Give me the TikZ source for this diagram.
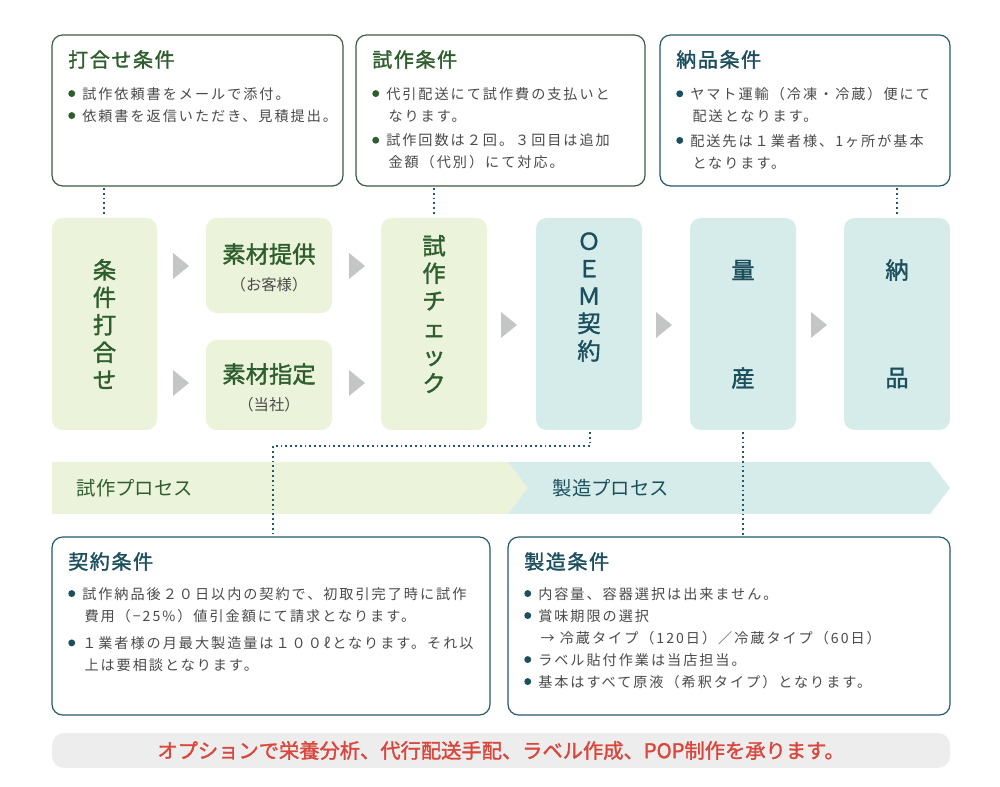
\documentclass[tikz,border=0pt]{standalone}
\usepackage{fontspec}
\setmainfont{Noto Sans CJK JP}
\newfontfamily\jpb{Noto Sans CJK JP}[FakeBold=1.5]
\newfontfamily\jpsp{Noto Sans CJK JP}[LetterSpace=14]
\newfontfamily\jpbsp{Noto Sans CJK JP}[FakeBold=1.5,LetterSpace=8]
\definecolor{gtx}{HTML}{2E5E2E}
\definecolor{ttx}{HTML}{1C4F5E}
\definecolor{gfill}{HTML}{EBF3DA}
\definecolor{tfill}{HTML}{D5ECEA}
\definecolor{gbord}{HTML}{3D5B42}
\definecolor{tbord}{HTML}{235A6A}
\definecolor{body}{HTML}{4A4A4A}
\definecolor{tri}{HTML}{C4C6C6}
\definecolor{redtx}{HTML}{D9463C}
\begin{document}
\begin{tikzpicture}[x=0.75pt,y=-0.75pt,
 info/.style={draw=#1,line width=0.9pt,rounded corners=8pt,fill=white},
 pbox/.style={fill=#1,rounded corners=8pt},
 dot/.style={draw=tbord,line width=1.4pt,dash pattern=on 1.4pt off 2.2pt},
 ttl/.style={anchor=north west,font=\jpbsp\fontsize{15}{18}\selectfont,text=#1,inner sep=0},
 bl/.style={anchor=north west,font=\jpsp\fontsize{10.6}{16.5}\selectfont,text=body,inner sep=0,align=left},
 ptx/.style={font=\jpb\fontsize{17.5}{20.6}\selectfont,text=#1,align=center,inner sep=0},
 tr/.style={fill=tri}]
\useasboundingbox (0,0) rectangle (1000,787);
\newcommand{\bul}[1]{\textcolor{#1}{\raisebox{0.15em}{\tikz\fill circle (2.6pt);}}\hspace{0.5em}}
% top info boxes
\draw[info=gbord] (52,35) rectangle (343,186);
\node[ttl=gtx] (t1) at (68,50) {打合せ条件};
\node[bl] (b1) at (68,87) {\bul{gtx}試作依頼書をメールで添付。\\\bul{gtx}依頼書を返信いただき、見積提出。};
\draw[info=gbord] (356,35) rectangle (645,186);
\node[ttl=gtx] (t2) at (372,50) {試作条件};
\node[bl] (b2) at (372,87) {\bul{gtx}代引配送にて試作費の支払いと\\\hspace{1.15em}なります。\\[2pt]\bul{gtx}試作回数は２回。３回目は追加\\\hspace{1.15em}金額（代別）にて対応。};
\draw[info=tbord] (660,35) rectangle (950,186);
\node[ttl=ttx] (t3) at (676,50) {納品条件};
\node[bl] (b3) at (676,87) {\bul{ttx}ヤマト運輸（冷凍・冷蔵）便にて\\\hspace{1.15em}配送となります。\\[2pt]\bul{ttx}配送先は１業者様、1ヶ所が基本\\\hspace{1.15em}となります。};
% dotted from top boxes
\draw[dot] (104,188) -- (104,216);
\draw[dot] (434,188) -- (434,216);
\draw[dot] (897,188) -- (897,216);
% process boxes
\fill[pbox=gfill] (52,218) rectangle (157,430);
\node[ptx=gtx] (p1) at (104.5,324) {条\\件\\打\\合\\せ};
\fill[pbox=gfill] (206,218) rectangle (332,313);
\node[ptx=gtx] (p2) at (269,254) {素材提供};
\node[font=\fontsize{11.5}{13}\selectfont,text=body] (p2s) at (269,285) {（お客様）};
\fill[pbox=gfill] (206,340) rectangle (332,430);
\node[ptx=gtx] (p3) at (269,374) {素材指定};
\node[font=\fontsize{11.5}{13}\selectfont,text=body] (p3s) at (269,405) {（当社）};
\fill[pbox=gfill] (381,218) rectangle (487,430);
\node[ptx=gtx] (p4) at (434,314) {試\\作\\チ\\ェ\\ッ\\ク};
\fill[pbox=tfill] (536,218) rectangle (642,430);
\node[ptx=ttx] (p5) at (589,297) {Ｏ\\Ｅ\\Ｍ\\契\\約};
\fill[pbox=tfill] (690,218) rectangle (796,430);
\node[ptx=ttx] (p6a) at (743,270) {量};
\node[ptx=ttx] (p6b) at (743,378) {産};
\fill[pbox=tfill] (844,218) rectangle (950,430);
\node[ptx=ttx] (p7a) at (897,270) {納};
\node[ptx=ttx] (p7b) at (897,378) {品};
% triangles
\foreach \x/\y in {173/266,173/383,349/266,349/383,501/325,656/325,811/325}
 \fill[tr] (\x,\y-13) -- (\x+16,\y) -- (\x,\y+13) -- cycle;
% process band
\fill[tfill] (508,462) -- (930,462) -- (950,488) -- (930,514) -- (508,514) -- cycle;
\fill[gfill] (52,462) -- (508,462) -- (528,488) -- (508,514) -- (52,514) -- cycle;
\node[anchor=west,font=\fontsize{14.5}{17}\selectfont,text=gtx] (band1) at (72,488) {試作プロセス};
\node[anchor=west,font=\fontsize{14.5}{17}\selectfont,text=ttx] (band2) at (548,488) {製造プロセス};
% dotted to bottom
\coordinate (c1) at (590,446);
\coordinate (c2) at (273,446);
\draw[dot] (590,432) -- (c1) -- (c2) -- (273,535);
\draw[dot] (743,432) -- (743,535);
% bottom boxes
\draw[info=tbord] (52,537) rectangle (490,715);
\node[ttl=ttx] (t4) at (68,552) {契約条件};
\node[bl] (b4) at (68,587) {\bul{ttx}試作納品後２０日以内の契約で、初取引完了時に試作\\\hspace{1.15em}費用（−25\%）値引金額にて請求となります。\\[4pt]\bul{ttx}１業者様の月最大製造量は１００ℓとなります。それ以\\\hspace{1.15em}上は要相談となります。};
\draw[info=tbord] (508,537) rectangle (950,715);
\node[ttl=ttx] (t5) at (524,552) {製造条件};
\node[bl] (b5) at (524,587) {\bul{ttx}内容量、容器選択は出来ません。\\\bul{ttx}賞味期限の選択\\\hspace{1.15em}→ 冷蔵タイプ（120日）／冷蔵タイプ（60日）\\\bul{ttx}ラベル貼付作業は当店担当。\\\bul{ttx}基本はすべて原液（希釈タイプ）となります。};
% banner
\fill[fill=black!7,rounded corners=9pt] (52,733) rectangle (950,768);
\node[font=\jpb\fontsize{15.2}{17}\selectfont,text=redtx] (ban) at (501,750.5) {オプションで栄養分析、代行配送手配、ラベル作成、POP制作を承ります。};
\end{tikzpicture}
\end{document}
